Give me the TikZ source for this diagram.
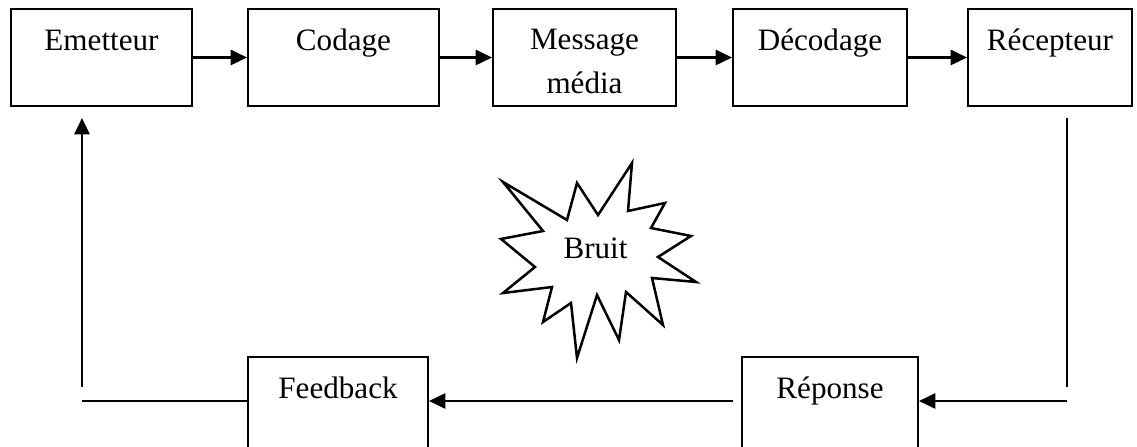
\documentclass[tikz,border=0pt]{standalone}
\usepackage{fontspec}
\setmainfont{Liberation Serif}
\usetikzlibrary{arrows.meta}
\newcommand{\unitpx}{0.014cm}
\tikzset{
  box/.style={draw, line width=0.8pt, minimum height=97*\unitpx, inner sep=0pt},
  boxlabel/.style={anchor=base, inner sep=0pt, align=center},
  link/.style={line width=1pt},
  arrow/.style={line width=1pt, -{Triangle[length=6.5pt,width=6pt]}}
}
\begin{document}
\begin{tikzpicture}[x=\unitpx, y=-\unitpx, font=\fontsize{12.4}{17.9}\selectfont]
  \clip (0,0) rectangle (1137,447);

  % chaine du haut
  \node[box, minimum width=181*\unitpx] (emetteur) at (101.5,57.5) {};
  \node[box, minimum width=191*\unitpx] (codage) at (343.5,57.5) {};
  \node[box, minimum width=183*\unitpx] (message) at (584.5,57.5) {};
  \node[box, minimum width=174*\unitpx] (decodage) at (820,57.5) {};
  \node[box, minimum width=164*\unitpx] (recepteur) at (1050,57.5) {};

  \node[boxlabel] (emetteurtxt) at ([yshift=-43*\unitpx]emetteur.north) {Emetteur};
  \node[boxlabel] (codagetxt) at ([yshift=-43*\unitpx]codage.north) {Codage};
  \node[boxlabel] (messagetxt) at ([yshift=-86*\unitpx]message.north) {Message\\média};
  \node[boxlabel] (decodagetxt) at ([yshift=-43*\unitpx]decodage.north) {Décodage};
  \node[boxlabel] (recepteurtxt) at ([yshift=-43*\unitpx]recepteur.north) {Récepteur};

  \draw[arrow] (emetteur) -- (codage);
  \draw[arrow] (codage) -- (message);
  \draw[arrow] (message) -- (decodage);
  \draw[arrow] (decodage) -- (recepteur);

  % retour
  \node[box, anchor=north, minimum width=176*\unitpx] (reponse) at (830,356) {};
  \node[box, anchor=north, minimum width=180*\unitpx] (feedback) at (338,356) {};
  \node[boxlabel] (reponsetxt) at ([yshift=-43*\unitpx]reponse.north) {Réponse};
  \node[boxlabel] (feedbacktxt) at ([yshift=-43*\unitpx]feedback.north) {Feedback};

  \coordinate (r1) at (1067,118);
  \coordinate (r2) at (1067,387);
  \coordinate (r3) at (1067,401);
  \coordinate (m1) at (733,401);
  \coordinate (e1) at (82,401);
  \coordinate (e2) at (82,387);
  \coordinate (e3) at (82,118);

  \draw[link] (r1) -- (r2);
  \draw[arrow] (r3) -- (reponse.east |- r3);
  \draw[arrow] (m1) -- (feedback.east |- m1);
  \draw[link] (feedback.west |- e1) -- (e1);
  \draw[arrow] (e2) -- (e3);

  % bruit
  \draw[line width=1pt, line join=miter]
    (503,182) -- (567,220) -- (577,183) -- (598,215) -- (632,163) -- (628,211)
    -- (665,203) -- (651,228) -- (691,236) -- (658,257) -- (696,282) -- (652,278)
    -- (663,325) -- (626,292) -- (619,340) -- (597,295) -- (577,358) -- (571,303)
    -- (543,322) -- (552,287) -- (503,293) -- (535,267) -- (501,239) -- (543,231)
    -- cycle;
  \node[anchor=base, inner sep=0pt] (bruit) at (595.5,259) {Bruit};
\end{tikzpicture}
\end{document}
